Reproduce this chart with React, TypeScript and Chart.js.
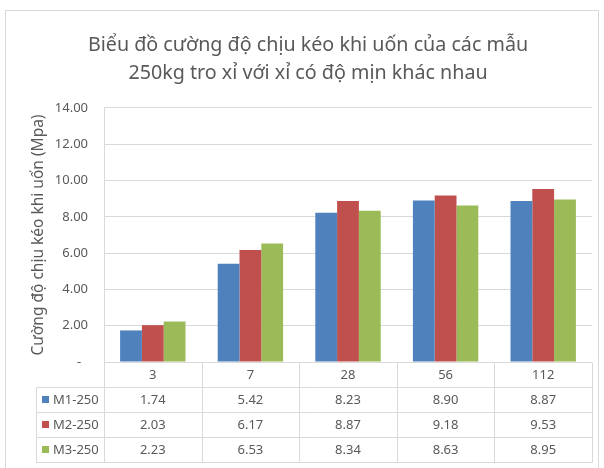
import { useEffect, useRef } from "react";
import { Chart, registerables } from "chart.js";

Chart.register(...registerables);

// Test ages (days) and flexural tensile strength per mix (MPa)
const categories = ["3", "7", "28", "56", "112"];
const seriesNames = ["M1-250", "M2-250", "M3-250"];
const m1Values = [1.74, 5.42, 8.23, 8.9, 8.87];
const m2Values = [2.03, 6.17, 8.87, 9.18, 9.53];
const m3Values = [2.23, 6.53, 8.34, 8.63, 8.95];
const seriesColors = ["#4F81BD", "#C0504D", "#9BBB59"];

const titleLines = [
  "Biểu đồ cường độ chịu kéo khi uốn của các mẫu",
  "250kg tro xỉ với xỉ có độ mịn khác nhau",
];
const yAxisTitle = "Cường độ chịu kéo khi uốn (Mpa)";

const FONT = "'Noto Sans', sans-serif";
const TEXT = "#595959";
const LINE = "#d9d9d9";

const allSeries = [m1Values, m2Values, m3Values];

// Frame around the chart plus the data table under the plot area
const dataTablePlugin = {
  id: "dataTable",
  beforeDraw(chart: any) {
    const { ctx, width, height } = chart;
    ctx.save();
    ctx.fillStyle = "#ffffff";
    ctx.fillRect(0, 0, width, height);
    ctx.strokeStyle = LINE;
    ctx.lineWidth = 1;
    ctx.strokeRect(5.5, 10.5, width - 11, height + 20);
    ctx.restore();
  },
  afterDraw(chart: any) {
    const { ctx, chartArea } = chart;
    const xs = chart.scales.x;
    const rowH = 25;
    const top = Math.round(chartArea.bottom) + 0.5;
    const labelLeft = 36.5;
    const half = (xs.getPixelForValue(1) - xs.getPixelForValue(0)) / 2;
    const edges: number[] = [];
    for (let i = 0; i <= categories.length; i++) {
      edges.push(Math.round(xs.getPixelForValue(i) - half) + 0.5);
    }

    ctx.save();
    ctx.strokeStyle = LINE;
    ctx.lineWidth = 1;
    ctx.beginPath();
    edges.forEach((x) => {
      ctx.moveTo(x, top);
      ctx.lineTo(x, top + rowH * 4);
    });
    ctx.moveTo(labelLeft, top + rowH);
    ctx.lineTo(labelLeft, top + rowH * 4);
    for (let r = 1; r <= 4; r++) {
      ctx.moveTo(labelLeft, top + rowH * r);
      ctx.lineTo(edges[edges.length - 1], top + rowH * r);
    }
    ctx.stroke();

    ctx.fillStyle = TEXT;
    ctx.font = `13px ${FONT}`;
    ctx.textBaseline = "middle";
    ctx.textAlign = "center";
    categories.forEach((c, i) => {
      ctx.fillText(c, xs.getPixelForValue(i), top + rowH / 2);
    });
    allSeries.forEach((vals, s) => {
      const cy = top + rowH * (s + 1) + rowH / 2;
      ctx.fillStyle = seriesColors[s];
      ctx.fillRect(42, cy - 4, 7, 7);
      ctx.fillStyle = TEXT;
      ctx.textAlign = "left";
      ctx.fillText(seriesNames[s], 53, cy);
      ctx.textAlign = "center";
      vals.forEach((v, i) => {
        ctx.fillText(v.toFixed(2), xs.getPixelForValue(i), cy);
      });
    });
    ctx.restore();
  },
};

export default function App() {
  const ref = useRef<HTMLCanvasElement>(null);

  useEffect(() => {
    if (!ref.current) return;
    Chart.defaults.font.family = FONT;
    const chart = new Chart(ref.current, {
      type: "bar",
      data: {
        labels: categories,
        datasets: allSeries.map((vals, s) => ({
          label: seriesNames[s],
          data: vals,
          backgroundColor: seriesColors[s],
          borderWidth: 0,
          categoryPercentage: 0.67,
          barPercentage: 1,
        })),
      },
      options: {
        responsive: false,
        animation: false,
        events: [],
        layout: { padding: { left: 24, right: 12, top: 0, bottom: 106 } },
        plugins: {
          legend: { display: false },
          tooltip: { enabled: false },
          title: {
            display: true,
            text: titleLines,
            color: TEXT,
            font: { family: FONT, size: 19.7, weight: "normal", lineHeight: 1.42 },
            padding: { top: 31, bottom: 21 },
          },
        },
        scales: {
          x: { display: false },
          y: {
            min: 0,
            max: 14,
            afterFit: (scale: any) => {
              scale.width = 80;
            },
            ticks: {
              stepSize: 2,
              padding: 16,
              color: TEXT,
              font: { family: FONT, size: 13 },
              callback: (v: any) => (Number(v) === 0 ? "-  " : Number(v).toFixed(2)),
            },
            grid: { color: LINE, drawTicks: false },
            border: { display: true, color: LINE },
            title: {
              display: true,
              text: yAxisTitle,
              color: TEXT,
              font: { family: FONT, size: 15.5 },
              padding: { top: 5, bottom: 0 },
            },
          },
        },
      },
      plugins: [dataTablePlugin],
    });
    return () => chart.destroy();
  }, []);

  return (
    <div style={{ position: "fixed", left: 0, top: 0, width: 604, height: 468 }}>
      <canvas ref={ref} width={604} height={468} />
    </div>
  );
}
